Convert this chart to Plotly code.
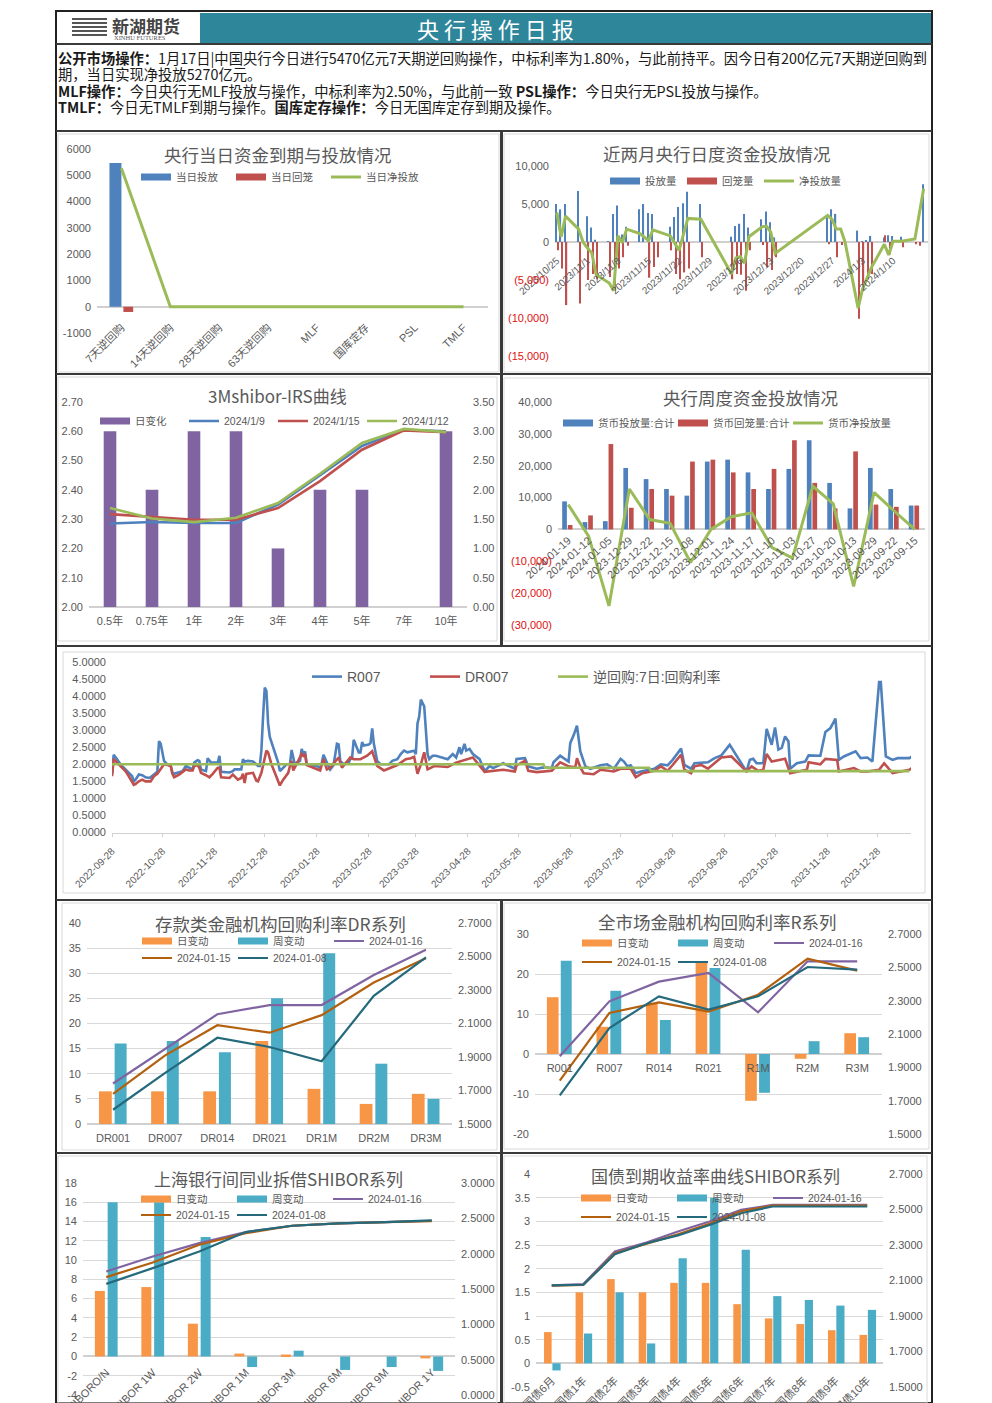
import pandas as pd
import plotly.graph_objects as go

W, H = 992, 1403
CJK = "Noto Sans CJK SC"
SANS = "Liberation Sans, Noto Sans CJK SC"
GREY = "#595959"
BLUE, RED, GREEN, PURPLE = "#4F81BD", "#C0504D", "#9BBB59", "#8064A2"
ORANGE, TEAL, BROWN, DTEAL = "#F79646", "#4BACC6", "#B3600F", "#256A7C"
FRAME = "#3A3A3A"

# ---- text ----
report_title = "央 行 操 作 日 报"
report_lines = [
    "<b>公开市场操作：</b>1月17日|中国央行今日进行5470亿元7天期逆回购操作，中标利率为1.80%，与此前持平。因今日有200亿元7天期逆回购到",
    "期，当日实现净投放5270亿元。",
    "<b>MLF操作：</b>今日央行无MLF投放与操作，中标利率为2.50%，与此前一致 <b>PSL操作：</b>今日央行无PSL投放与操作。",
    "<b>TMLF：</b>今日无TMLF到期与操作。<b>国库定存操作：</b>今日无国库定存到期及操作。",
]

# ---- chart 1 ----
c1_cats = ["7天逆回购", "14天逆回购", "28天逆回购", "63天逆回购", "MLF", "国库定存", "PSL", "TMLF"]
c1_issue = [5470, 0, 0, 0, 0, 0, 0, 0]
c1_redeem = [-200, 0, 0, 0, 0, 0, 0, 0]
c1_net = [5270, 0, 0, 0, 0, 0, 0, 0]

# ---- chart 2 (days counted from 2023-10-25) ----
c2_start = "2023-10-25"
c2_labels = ["2023/10/25", "2023/11/1", "2023/11/8", "2023/11/15", "2023/11/22", "2023/11/29",
             "2023/12/6", "2023/12/13", "2023/12/20", "2023/12/27", "2024/1/3", "2024/1/10"]
c2_issue_day = [0, 1, 2, 5, 7, 8, 9, 12, 13, 14, 15, 16, 19, 20, 21, 22, 26, 27, 28, 29, 30, 33,
                40, 41, 42, 43, 44, 47, 48, 49, 50, 62, 63, 64, 69, 70, 71, 72, 75, 76, 77, 79, 84]
c2_issue = [5000, 4300, 5000, 6700, 3400, 1900, 300, 100, 3700, 4800, 1000, 2000, 4300, 5000, 3800, 3700,
            2000, 3300, 4600, 5100, 6600, 5000, 700, 2100, 2400, 3700, 1900, 3000, 4000, 2600, 600,
            3500, 4300, 3700, 1500, 100, 200, 800, 600, 900, 800, 700, 7600]
c2_redeem_day = [0, 1, 2, 5, 7, 8, 9, 12, 13, 14, 15, 16, 21, 22, 23, 26, 27, 28, 29, 30, 33, 40, 41, 42, 43, 44,
                 47, 48, 49, 50, 62, 64, 65, 69, 70, 71, 72, 75, 76, 79, 82, 83]
c2_redeem = [-1100, -3500, -8300, -8100, -5000, -4200, -4900, -4600, -6400, -3500, -2000, -500, -4700, -3300,
             -2000, -1100, -4200, -4900, -4000, -3500, -2000, -4900, -4200, -4300, -6400, -1100,
             -400, -3300, -3700, -2000, -300, -2000, -400, -10100, -6300, -4900, -4200, 900, -1600, -700, -300, -500]
c2_net_day = [0, 1, 2, 5, 6, 7, 8, 9, 12, 13, 14, 15, 16, 19, 21, 22, 23, 26, 28, 30, 33, 40, 41, 42, 43, 44,
              47, 48, 49, 50, 62, 63, 64, 65, 66, 69, 70, 71, 72, 75, 76, 77, 79, 82, 84]
c2_net = [3900, 700, 3400, 1700, 0, -800, -1400, -4300, -5400, -6400, 800, -100, 1700, 1100, 200, 1600, 1400,
          800, -1100, 3100, 3000, -4200, -2100, -1900, -2800, 700, 2000, 2100, 1300, -1500,
          3500, 3000, 1700, 1700, 0, -8700, -6200, -4700, -3400, -300, -1700, 100, 100, 400, 7000]

# ---- chart 3 ----
c3_cats = ["0.5年", "0.75年", "1年", "2年", "3年", "4年", "5年", "7年", "10年"]
c3_change = [3, 2, 3, 3, 1, 2, 2, 0, 3]
c3_0109 = [2.285, 2.29, 2.287, 2.287, 2.35, 2.45, 2.55, 2.605, 2.60]
c3_0115 = [2.317, 2.307, 2.298, 2.298, 2.338, 2.43, 2.537, 2.603, 2.597]
c3_0112 = [2.338, 2.302, 2.29, 2.305, 2.355, 2.455, 2.56, 2.608, 2.597]

# ---- chart 4 ----
c4_cats = ["2024-01-19", "2024-01-12", "2024-01-05", "2023-12-29", "2023-12-22", "2023-12-15", "2023-12-08",
           "2023-12-01", "2023-11-24", "2023-11-17", "2023-11-10", "2023-11-03", "2023-10-27", "2023-10-20",
           "2023-10-13", "2023-09-29", "2023-09-22", "2023-09-15"]
c4_issue = [8800, 2300, 2600, 19300, 15800, 12700, 10600, 21300, 21900, 17900, 12700, 19000, 28000, 14600, 6600, 19300, 12700, 7500]
c4_redeem = [1400, 4400, 26800, 6800, 12700, 10600, 21300, 21900, 17900, 12700, 19000, 28000, 14600, 6600, 24500, 7800, 7100, 7500]
c4_net = [7800, -2100, -24000, 12700, 3100, 1900, -10400, 0, 4000, 5200, -5700, -9000, 13600, 8000, -17900, 11600, 5700, 0]

# ---- chart 5: R007 and DR007 as (day from 2022-09-28, rate) readings ----
c5_start = "2022-09-28"
c5_ticks = ["2022-09-28", "2022-10-28", "2022-11-28", "2022-12-28", "2023-01-28", "2023-02-28", "2023-03-28", "2023-04-28",
            "2023-05-28", "2023-06-28", "2023-07-28", "2023-08-28", "2023-09-28", "2023-10-28", "2023-11-28", "2023-12-28"]
r007_points = [
    (0, 1.70), (1, 2.28), (3, 2.15), (5, 2.00), (8, 1.85), (10, 1.75), (12, 1.65), (13, 1.50), (14, 1.55), (16, 1.70),
    (18, 1.68), (20, 1.62), (22, 1.60), (23, 1.62), (25, 1.70), (27, 1.78), (28, 2.68), (29, 2.60), (31, 2.10), (33, 2.00),
    (35, 1.95), (36, 1.75), (37, 1.72), (40, 1.78), (42, 1.80), (44, 1.95), (46, 1.90), (48, 1.85), (49, 2.05), (51, 2.12),
    (52, 2.10), (53, 1.85), (56, 1.80), (57, 2.18), (59, 2.05), (63, 2.05), (64, 2.25), (65, 1.78), (70, 1.76), (72, 1.80),
    (73, 1.85), (76, 1.85), (77, 1.85), (78, 2.15), (79, 2.08), (81, 2.10), (84, 2.08), (86, 2.00), (87, 1.95), (88, 1.95),
    (89, 2.40), (90, 3.40), (91, 4.25), (92, 4.15), (93, 3.20), (94, 2.80), (96, 2.50), (99, 2.05), (100, 1.80), (102, 1.90),
    (104, 2.00), (106, 2.00), (107, 2.42), (108, 2.20), (109, 1.95), (110, 2.05), (112, 2.10), (113, 2.45), (114, 2.30),
    (115, 2.38), (116, 2.00), (122, 1.95), (124, 1.90), (125, 2.05), (126, 2.28), (128, 2.05), (130, 1.85), (132, 1.98),
    (134, 2.60), (135, 2.58), (136, 2.10), (138, 2.00), (141, 2.05), (142, 2.15), (143, 2.18), (144, 2.72), (146, 2.50),
    (147, 2.35), (148, 2.35), (149, 2.65), (150, 2.55), (153, 2.58), (154, 2.62), (155, 3.05), (156, 2.60), (158, 2.10),
    (160, 2.00), (165, 2.00), (167, 2.10), (170, 2.15), (172, 2.30), (174, 2.40), (176, 2.35), (178, 2.38), (180, 2.40),
    (181, 2.30), (182, 3.20), (183, 3.40), (184, 3.90), (186, 3.70), (188, 2.30), (189, 2.15), (191, 2.25), (193, 2.25),
    (196, 2.20), (200, 2.15), (203, 2.30), (205, 2.20), (207, 2.50), (208, 2.30), (210, 2.60), (211, 2.40), (213, 2.45),
    (215, 2.30), (219, 2.15), (222, 1.80), (225, 1.95), (227, 1.89), (233, 2.03), (237, 1.94), (240, 1.87), (241, 2.16),
    (246, 2.18), (248, 1.94), (253, 1.87), (257, 1.91), (262, 1.89), (263, 2.06), (267, 2.25), (272, 2.08), (273, 2.62),
    (275, 2.85), (277, 3.13), (279, 2.38), (282, 1.94), (285, 1.87), (291, 1.97), (295, 2.00), (299, 1.87), (303, 2.16),
    (305, 2.08), (307, 1.94), (309, 1.97), (312, 1.74), (315, 1.79), (323, 1.87), (327, 2.00), (331, 1.97), (334, 2.13),
    (339, 2.46), (341, 1.98), (345, 1.87), (347, 2.03), (355, 2.06), (359, 2.18), (363, 2.26), (368, 2.57), (378, 1.79),
    (380, 2.13), (382, 2.16), (384, 2.03), (388, 2.03), (390, 3.04), (393, 2.57), (395, 3.08), (397, 2.43), (399, 2.48),
    (401, 2.82), (403, 2.67), (404, 1.87), (408, 2.03), (413, 2.08), (415, 2.26), (422, 2.25), (425, 2.95), (428, 3.06),
    (431, 3.34), (433, 2.13), (436, 2.23), (443, 2.38), (446, 2.18), (450, 2.20), (453, 2.08), (457, 4.41), (458, 4.41),
    (461, 2.23), (465, 2.13), (468, 2.18), (475, 2.18), (479, 2.30),
]
dr007_points = [
    (0, 1.65), (1, 2.15), (3, 2.05), (5, 1.95), (8, 1.80), (10, 1.65), (12, 1.50), (13, 1.40), (14, 1.42), (16, 1.50),
    (18, 1.55), (20, 1.50), (23, 1.50), (25, 1.65), (27, 1.72), (29, 1.85), (31, 2.00), (33, 1.98), (35, 1.95), (36, 1.72),
    (37, 1.62), (40, 1.70), (42, 1.78), (44, 1.85), (46, 1.82), (48, 1.82), (49, 1.95), (51, 1.98), (52, 1.90), (53, 1.75),
    (56, 1.68), (57, 1.65), (58, 1.62), (60, 1.72), (63, 1.90), (64, 1.90), (65, 1.62), (70, 1.60), (72, 1.70), (75, 1.55),
    (77, 1.60), (78, 1.72), (79, 1.45), (80, 1.72), (84, 1.75), (86, 1.52), (87, 1.50), (89, 1.75), (90, 2.00), (92, 2.40),
    (93, 2.35), (95, 2.00), (97, 1.75), (99, 1.50), (100, 1.38), (102, 1.55), (105, 1.75), (106, 1.95), (107, 2.10),
    (108, 1.82), (110, 2.00), (112, 2.20), (113, 2.30), (114, 2.25), (115, 2.30), (116, 1.98), (124, 1.82), (126, 2.15),
    (128, 1.85), (130, 1.90), (135, 2.20), (137, 1.90), (142, 2.20), (144, 2.15), (148, 2.15), (152, 2.25), (155, 2.38),
    (158, 1.95), (162, 1.82), (170, 1.98), (175, 2.15), (178, 2.18), (180, 2.22), (182, 1.72), (184, 2.00), (186, 2.35),
    (188, 1.85), (192, 1.95), (200, 1.92), (205, 2.05), (215, 2.20), (222, 1.78), (227, 1.81), (233, 1.84), (240, 1.79),
    (241, 1.97), (246, 2.10), (248, 1.81), (253, 1.77), (262, 1.81), (267, 2.06), (272, 1.94), (276, 1.91), (277, 2.18),
    (279, 1.91), (281, 1.74), (287, 1.71), (291, 1.84), (299, 1.79), (303, 1.87), (309, 1.87), (312, 1.62), (316, 1.74),
    (323, 1.81), (327, 1.94), (331, 1.81), (334, 1.98), (339, 2.28), (341, 1.84), (345, 1.74), (347, 1.94), (351, 1.98),
    (355, 1.87), (359, 2.03), (363, 2.20), (369, 2.23), (378, 1.79), (381, 1.94), (385, 1.81), (388, 1.84), (390, 2.30),
    (393, 2.08), (401, 2.16), (404, 1.74), (414, 1.84), (415, 2.06), (422, 2.00), (425, 2.16), (432, 2.13), (433, 1.79),
    (442, 1.89), (446, 1.79), (450, 1.79), (457, 1.84), (460, 2.03), (465, 1.74), (475, 1.84), (479, 1.97),
]
repo_dates = ["2022-09-28", "2023-06-12", "2023-06-13", "2023-08-14", "2023-08-15", "2024-01-16"]
repo_rate = [2.00, 2.00, 1.90, 1.90, 1.80, 1.80]

# ---- chart 6 ----
c6_cats = ["DR001", "DR007", "DR014", "DR021", "DR1M", "DR2M", "DR3M"]
c6_day = [6.5, 6.5, 6.5, 16.5, 7, 4, 6]
c6_week = [16, 16.5, 14.3, 25, 34, 12, 5]
c6_0116 = [1.742, 1.95, 2.155, 2.21, 2.21, 2.39, 2.54]
c6_0115 = [1.68, 1.91, 2.09, 2.045, 2.15, 2.345, 2.49]
c6_0108 = [1.585, 1.805, 2.015, 1.96, 1.875, 2.265, 2.495]

# ---- chart 7 ----
c7_cats = ["R001", "R007", "R014", "R021", "R1M", "R2M", "R3M"]
c7_day = [14.2, 6.8, 12.7, 22.8, -11.7, -1.2, 5.2]
c7_week = [23.3, 15.8, 8.5, 21.5, -9.7, 3.2, 4.2]
c7_0116 = [1.966, 2.296, 2.414, 2.466, 2.23, 2.536, 2.536]
c7_0115 = [1.82, 2.226, 2.29, 2.234, 2.336, 2.552, 2.48]
c7_0108 = [1.732, 2.136, 2.326, 2.246, 2.326, 2.502, 2.486]

# ---- chart 8 ----
c8_cats = ["SHIBORO/N", "SHIBOR 1W", "SHIBOR 2W", "SHIBOR 1M", "SHIBOR 3M", "SHIBOR 6M", "SHIBOR 9M", "SHIBOR 1Y"]
c8_day = [6.8, 7.2, 3.4, 0.3, 0.2, 0, 0, -0.2]
c8_week = [16, 16, 12.4, -1.1, 0.6, -1.4, -1.1, -1.5]
c8_0116 = [1.748, 1.96, 2.15, 2.305, 2.395, 2.43, 2.447, 2.466]
c8_0115 = [1.668, 1.876, 2.126, 2.29, 2.395, 2.43, 2.447, 2.46]
c8_0108 = [1.573, 1.795, 2.03, 2.305, 2.395, 2.43, 2.447, 2.47]

# ---- chart 9 ----
c9_cats = ["国债6月", "国债1年", "国债2年", "国债3年", "国债4年", "国债5年", "国债6年", "国债7年", "国债8年", "国债9年", "国债10年"]
c9_day = [0.66, 1.5, 1.78, 1.5, 1.7, 1.7, 1.25, 0.95, 0.83, 0.7, 0.6]
c9_week = [-0.15, 0.63, 1.5, 0.42, 2.22, 3.5, 2.4, 1.42, 1.34, 1.22, 1.13]
c9_0116 = [2.073, 2.08, 2.264, 2.314, 2.376, 2.432, 2.498, 2.526, 2.526, 2.526, 2.526]
c9_0115 = [2.071, 2.075, 2.254, 2.307, 2.36, 2.42, 2.49, 2.522, 2.522, 2.522, 2.522]
c9_0108 = [2.073, 2.076, 2.248, 2.31, 2.354, 2.413, 2.479, 2.517, 2.517, 2.517, 2.517]


def fx(p):
    return p / W


def fy(p):
    return 1 - p / H


def days(start, offsets):
    return list(pd.Timestamp(start) + pd.to_timedelta(list(offsets), "D"))


def red_neg(v):
    return f"<span style='color:#E01010'>({abs(v):,})</span>"


fig = go.Figure()
layout = dict(width=W, height=H, margin=dict(l=0, r=0, t=0, b=0, autoexpand=False), autosize=False,
              paper_bgcolor="white", plot_bgcolor="rgba(0,0,0,0)", barmode="overlay",
              showlegend=True, font=dict(family=SANS, color=GREY))
shapes, notes = [], []


def tick_font(size=11):
    return dict(family=SANS, size=size, color=GREY)


def axes(i, x0, x1, ytop, ybot, yr, ytv, ytt=None, xkw=None, grid=False, right=None, base_right=False, ysize=11):
    """Left/right value axes and a category axis placed by pixel box."""
    xk = dict(domain=[fx(x0), fx(x1)], anchor="free", position=fy(ybot), showgrid=False, showline=False, ticks="",
              zeroline=False, tickfont=tick_font(), automargin=False)
    xk.update(xkw or {})
    layout["xaxis" + ("" if i == 1 else str(i))] = xk
    yname = "yaxis" + ("" if i == 1 else str(i))
    xid = "x" + ("" if i == 1 else str(i))
    base = dict(domain=[fy(ybot), fy(ytop)], range=yr, anchor=xid, tickmode="array", tickvals=ytv, showgrid=grid,
                gridcolor="#D9D9D9", gridwidth=1, zeroline=True, zerolinecolor="#D0D0D0", zerolinewidth=1.5,
                showline=False, ticks="", tickfont=tick_font(ysize), automargin=False, ticklabelstandoff=5,
                side="right" if base_right else "left", ticktext=ytt or [f"{v:g}" for v in ytv])
    layout[yname] = base
    if right:
        layout["yaxis" + str(i + 9)] = dict(domain=[fy(ybot), fy(ytop)], range=right[0], anchor=xid, tickmode="array",
                                            tickvals=right[1], ticktext=right[2], overlaying="y" + ("" if i == 1 else str(i)),
                                            side="left" if base_right else "right", showgrid=False, zeroline=False,
                                            showline=False, ticks="", tickfont=tick_font(ysize), automargin=False,
                                            ticklabelstandoff=5)
    return xid, "y" + ("" if i == 1 else str(i)), "y" + str(i + 9)


def legend(name, xp, yp, size=11, entry=None):
    d = dict(x=fx(xp), y=fy(yp), xanchor="left", yanchor="middle", orientation="h", bgcolor="rgba(0,0,0,0)",
             font=dict(family=SANS, size=size, color=GREY), itemwidth=30, tracegroupgap=0, traceorder="normal",
             itemclick=False, itemdoubleclick=False)
    if entry:
        d.update(entrywidth=entry - 45, entrywidthmode="pixels")
    layout[name] = d


def bar(x, y, xa, ya, color, name, off, wid):
    fig.add_trace(go.Bar(x=x, y=y, xaxis=xa, yaxis=ya, marker=dict(color=color, line_width=0), name=name,
                         offset=off, width=wid, showlegend=False))


def line(x, y, xa, ya, color, name, leg, lw=2.6):
    fig.add_trace(go.Scatter(x=x, y=y, xaxis=xa, yaxis=ya, mode="lines", line=dict(color=color, width=lw),
                             name=name, legend=leg))


def swatch(color, name, leg, xa, ya):
    # legend key as a broad bar-coloured band, matching the wide legend keys of the source
    fig.add_trace(go.Scatter(x=[None], y=[None], xaxis=xa, yaxis=ya, mode="lines", line=dict(color=color, width=7),
                             name=name, legend=leg))


def title(text, xp, yp, size=17.5):
    notes.append(dict(text=text, x=fx(xp), y=fy(yp), xref="paper", yref="paper", showarrow=False, xanchor="center",
                      yanchor="middle", font=dict(family=CJK, size=size, color=GREY)))


def rect(x0, y0, x1, y1, line=None, fill=None, w=1):
    shapes.append(dict(type="rect", xref="paper", yref="paper", x0=fx(x0), x1=fx(x1), y0=fy(y0), y1=fy(y1),
                       line=dict(color=line or "rgba(0,0,0,0)", width=w), fillcolor=fill or "rgba(0,0,0,0)", layer="below"))


# ---- page frame ----
rect(60, 13, 932, 43, fill="#2E869B")
rect(60, 13, 200, 43, fill="white")
for yy in (18, 22, 26, 30, 34):
    rect(72, yy, 107, yy + 2, fill="#555555")
rect(56, 11, 932, 1403, line="#222222", w=2)
for y in (44, 131, 374, 646, 900, 1153):
    rect(56, y, 932, y, line=FRAME, w=2)
for y0, y1 in ((131, 374), (374, 646), (900, 1153), (1153, 1403)):
    rect(501.5, y0, 501.5, y1, line=FRAME, w=3)
for box in ((58, 134, 499, 372), (504, 134, 929, 372), (58, 377, 497, 641), (504, 378, 929, 641), (63, 652, 925, 893),
            (62, 903, 497, 1150), (504, 903, 929, 1149), (58, 1156, 497, 1403), (504, 1156, 927, 1403)):
    rect(*box, line="#D9D9D9", w=1)

notes.append(dict(text=report_title, x=fx(495), y=fy(28), xref="paper", yref="paper", showarrow=False, yanchor="middle",
                  font=dict(family=CJK, size=22, color="white")))
notes.append(dict(text="<b>新湖期货</b>", x=fx(110), y=fy(25), xref="paper", yref="paper", showarrow=False, xanchor="left",
                  yanchor="middle", font=dict(family=CJK, size=17, color="#444444")))
notes.append(dict(text="XINHU FUTURES", x=fx(112), y=fy(37), xref="paper", yref="paper", showarrow=False, xanchor="left",
                  yanchor="middle", font=dict(family="Liberation Serif", size=6.5, color="#555555")))
for txt, yy in zip(report_lines, (57, 73.5, 90, 106)):
    notes.append(dict(text=txt, x=fx(56), y=fy(yy), xref="paper", yref="paper", showarrow=False, xanchor="left",
                      yanchor="middle", font=dict(family=CJK, size=14.3, color="#1A1A1A")))

# ---- chart 1 ----
xa, ya, _ = axes(1, 97, 488, 149, 333, [-1000, 6000], [-1000, 0, 1000, 2000, 3000, 4000, 5000, 6000],
                 xkw=dict(type="category", tickangle=-45, categoryorder="array", categoryarray=c1_cats, position=fy(318)))
bar(c1_cats, c1_issue, xa, ya, BLUE, "当日投放", -0.245, 0.245)
bar(c1_cats, c1_redeem, xa, ya, RED, "当日回笼", 0.04, 0.2)
swatch(BLUE, "当日投放", "legend", xa, ya)
swatch(RED, "当日回笼", "legend", xa, ya)
line(c1_cats, c1_net, xa, ya, GREEN, "当日净投放", "legend", 3)
legend("legend", 136, 177, 10.5, 95)
title("央行当日资金到期与投放情况", 278, 155)

# ---- chart 2 ----
DAY = 86400000
c2_tv = [-15000, -10000, -5000, 0, 5000, 10000]
c2_tt = [red_neg(-15000), red_neg(-10000), red_neg(-5000), "0", "5,000", "10,000"]
xa, ya, _ = axes(2, 555, 928, 166, 356, [-15000, 10000], c2_tv, c2_tt,
                 xkw=dict(type="date", range=[pd.Timestamp(c2_start) - pd.Timedelta(hours=10), pd.Timestamp(c2_start) + pd.Timedelta(hours=2040)],
                          tickmode="array", tickvals=days(c2_start, [7 * k for k in range(len(c2_labels))]), ticktext=c2_labels,
                          tickangle=-42, tickfont=tick_font(10), position=fy(252)))
bar(days(c2_start, c2_issue_day), c2_issue, xa, ya, BLUE, "投放量", -0.3 * DAY, 0.28 * DAY)
bar(days(c2_start, c2_redeem_day), c2_redeem, xa, ya, RED, "回笼量", 0.1 * DAY, 0.28 * DAY)
swatch(BLUE, "投放量", "legend2", xa, ya)
swatch(RED, "回笼量", "legend2", xa, ya)
line(days(c2_start, c2_net_day), c2_net, xa, ya, GREEN, "净投放量", "legend20", 3)
legend("legend2", 605, 181, 10.5, 77)
legend("legend20", 759, 181, 10.5)
title("近两月央行日度资金投放情况", 717, 153)

# ---- chart 3 ----
c3_lv = [2.0, 2.1, 2.2, 2.3, 2.4, 2.5, 2.6, 2.7]
c3_rv = [0, 0.5, 1, 1.5, 2, 2.5, 3, 3.5]
xa, ya, yb = axes(3, 89, 467, 402, 607, [0, 3.5], c3_rv, [f"{v:.2f}" for v in c3_rv],
                  xkw=dict(type="category", tickangle=0, categoryorder="array", categoryarray=c3_cats, position=fy(613)),
                  right=([2.0, 2.7], c3_lv, [f"{v:.2f}" for v in c3_lv]), base_right=True)
bar(c3_cats, c3_change, xa, ya, PURPLE, "日变化", -0.15, 0.3)
swatch(PURPLE, "日变化", "legend3", xa, ya)
line(c3_cats, c3_0109, xa, yb, BLUE, "2024/1/9", "legend3")
line(c3_cats, c3_0115, xa, yb, RED, "2024/1/15", "legend3")
line(c3_cats, c3_0112, xa, yb, GREEN, "2024/1/12", "legend3")
legend("legend3", 95, 421, 10.5, 89)
title("3Mshibor-IRS曲线", 277, 396, 17)

# ---- chart 4 ----
c4_tv = [-30000, -20000, -10000, 0, 10000, 20000, 30000, 40000]
c4_tt = [red_neg(-30000), red_neg(-20000), red_neg(-10000), "0", "10,000", "20,000", "30,000", "40,000"]
xa, ya, _ = axes(4, 558, 925, 402, 625, [-30000, 40000], c4_tv, c4_tt,
                 xkw=dict(type="category", tickangle=-42, categoryorder="array", categoryarray=c4_cats, position=fy(531)))
bar(c4_cats, c4_issue, xa, ya, BLUE, "货币投放量:合计", -0.295, 0.23)
bar(c4_cats, c4_redeem, xa, ya, RED, "货币回笼量:合计", -0.02, 0.23)
swatch(BLUE, "货币投放量:合计", "legend4", xa, ya)
swatch(RED, "货币回笼量:合计", "legend4", xa, ya)
line(c4_cats, c4_net, xa, ya, GREEN, "货币净投放量", "legend4", 3)
legend("legend4", 558, 423, 10.5, 115)
title("央行周度资金投放情况", 750, 398)

# ---- chart 5 ----
c5_tv = [0, 0.5, 1, 1.5, 2, 2.5, 3, 3.5, 4, 4.5, 5]
xa, ya, _ = axes(5, 112, 911, 662, 832.5, [0, 5], c5_tv, [f"{v:.4f}" for v in c5_tv],
                 xkw=dict(type="date", range=[pd.Timestamp(c5_start), pd.Timestamp(c5_start) + pd.Timedelta(days=476)],
                          tickmode="array", tickvals=c5_ticks, ticktext=c5_ticks, tickangle=-45, tickfont=tick_font(10),
                          showline=True, linecolor="#D0D0D0", ticks="outside", ticklen=3, tickcolor="#D0D0D0",
                          ticklabelstandoff=5, position=fy(832.5)))
line(days(c5_start, [p[0] for p in r007_points]), [p[1] for p in r007_points], xa, ya, BLUE, "R007", "legend5")
line(days(c5_start, [p[0] for p in dr007_points]), [p[1] for p in dr007_points], xa, ya, RED, "DR007", "legend15")
line(repo_dates, repo_rate, xa, ya, GREEN, "逆回购:7日:回购利率", "legend21")
legend("legend5", 307, 677, 14)
legend("legend15", 425, 677, 14)
legend("legend21", 553, 677, 14)

# ---- charts 6-9 share one form ----
rates6 = [1.5, 1.7, 1.9, 2.1, 2.3, 2.5, 2.7]
rates9 = rates6


def combo(i, box, lr, ltv, ltick, rr, rtv, rtick, cats, day, week, a, b, c, off, legpos, ttl, xkw):
    xa, ya, yb = axes(i, box[0], box[1], box[2], box[3], lr, ltv, ltick, xkw=xkw, grid=True, right=(rr, rtv, rtick))
    bar(cats, day, xa, ya, ORANGE, "日变动", off[0], off[1])
    bar(cats, week, xa, ya, TEAL, "周变动", off[2], off[3])
    n1, n2 = f"legend{i}", f"legend{i + 10}"
    swatch(ORANGE, "日变动", n1, xa, ya)
    swatch(TEAL, "周变动", n1, xa, ya)
    line(cats, a, xa, yb, PURPLE, "2024-01-16", n1, 2.2)
    line(cats, b, xa, yb, BROWN, "2024-01-15", n2, 2.2)
    line(cats, c, xa, yb, DTEAL, "2024-01-08", n2, 2.2)
    legend(n1, legpos[0], legpos[1], 10.5, 96)
    legend(n2, legpos[0], legpos[2], 10.5, 96)
    title(*ttl)


c6_lv = [0, 5, 10, 15, 20, 25, 30, 35, 40]
combo(6, (87, 452, 923, 1124), [0, 40], c6_lv, None, [1.5, 2.7], rates6, [f"{v:.4f}" for v in rates6],
      c6_cats, c6_day, c6_week, c6_0116, c6_0115, c6_0108, (-0.27, 0.245, 0.03, 0.23), (137, 941, 958),
      ("存款类金融机构回购利率DR系列", 280, 923),
      dict(type="category", tickangle=0, categoryorder="array", categoryarray=c6_cats, position=fy(1130)))

c7_lv = [-20, -10, 0, 10, 20, 30]
combo(7, (535, 882, 934, 1134), [-20, 30], c7_lv, None, [1.5, 2.7], rates6, [f"{v:.4f}" for v in rates6],
      c7_cats, c7_day, c7_week, c7_0116, c7_0115, c7_0108, (-0.26, 0.235, 0.02, 0.22), (577, 943, 962),
      ("全市场金融机构回购利率R系列", 717, 921),
      dict(type="category", tickangle=0, categoryorder="array", categoryarray=c7_cats, position=fy(1060)))

c8_lv = [-4, -2, 0, 2, 4, 6, 8, 10, 12, 14, 16, 18]
c8_rv = [0, 0.5, 1, 1.5, 2, 2.5, 3]
combo(8, (83, 455, 1183, 1395), [-4, 18], c8_lv, None, [0, 3], c8_rv, [f"{v:.4f}" for v in c8_rv],
      c8_cats, c8_day, c8_week, c8_0116, c8_0115, c8_0108, (-0.245, 0.215, 0.03, 0.215), (136, 1199, 1215),
      ("上海银行间同业拆借SHIBOR系列", 278, 1178, 17),
      dict(type="category", tickangle=-45, categoryorder="array", categoryarray=c8_cats, position=fy(1363)))

c9_lv = [-0.5, 0, 0.5, 1, 1.5, 2, 2.5, 3, 3.5, 4]
combo(9, (536, 883, 1174, 1387), [-0.5, 4], c9_lv, None, [1.5, 2.7], rates9,
      [f"{v:.4f}" for v in rates9],
      c9_cats, c9_day, c9_week, c9_0116, c9_0115, c9_0108, (-0.245, 0.24, 0.02, 0.26), (576, 1198, 1217),
      ("国债到期收益率曲线SHIBOR系列", 715, 1175, 17),
      dict(type="category", tickangle=-45, categoryorder="array", categoryarray=c9_cats, position=fy(1371)))

layout["shapes"] = shapes
layout["annotations"] = notes
fig.update_layout(**layout)
fig.write_html("out.html", config=dict(displayModeBar=False),
               post_script="document.body.style.margin='0';document.documentElement.style.overflow='hidden';")
